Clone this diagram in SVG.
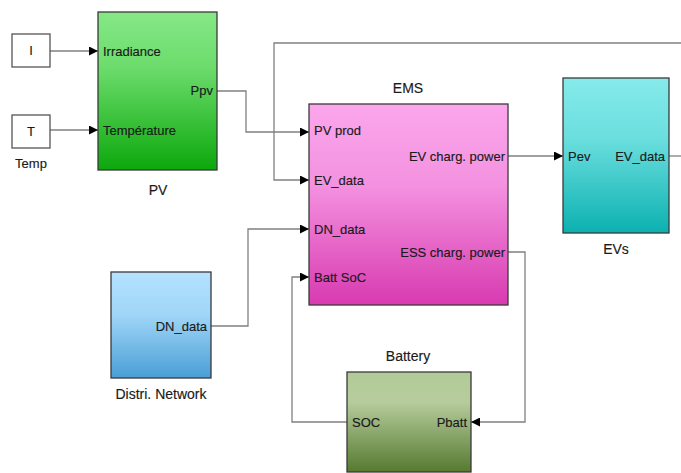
<svg xmlns="http://www.w3.org/2000/svg" width="681" height="473" viewBox="0 0 681 473">
<defs>
<style>
text{font-family:"Liberation Sans",Arial,sans-serif;font-size:13px;fill:#1a1a1a;stroke:#1a1a1a;stroke-width:0.15}
.nm{font-size:14px}
.blk{stroke:#3a3a3a;stroke-width:1.3}
.src{fill:#fff;stroke:#555;stroke-width:1.3}
.wire{fill:none;stroke:#808080;stroke-width:1.3}
.e{text-anchor:end}
.m{text-anchor:middle}
</style>
<linearGradient id="gPV" x1="0" y1="0" x2="0" y2="1"><stop offset="0" stop-color="#86e886"/><stop offset="0.35" stop-color="#6cdc6c"/><stop offset="1" stop-color="#0ca80c"/></linearGradient>
<linearGradient id="gEMS" x1="0" y1="0" x2="0" y2="1"><stop offset="0" stop-color="#fba6ec"/><stop offset="0.4" stop-color="#f492e0"/><stop offset="1" stop-color="#d83ab0"/></linearGradient>
<linearGradient id="gEV" x1="0" y1="0" x2="0" y2="1"><stop offset="0" stop-color="#86eaea"/><stop offset="0.4" stop-color="#6adede"/><stop offset="1" stop-color="#0cb0b0"/></linearGradient>
<linearGradient id="gDN" x1="0" y1="0" x2="0" y2="1"><stop offset="0" stop-color="#b4e2ff"/><stop offset="0.4" stop-color="#a0d6f8"/><stop offset="1" stop-color="#4a9ed6"/></linearGradient>
<linearGradient id="gBat" x1="0" y1="0" x2="0" y2="1"><stop offset="0" stop-color="#b2ca98"/><stop offset="0.3" stop-color="#b6cc9c"/><stop offset="1" stop-color="#567a30"/></linearGradient>
<marker id="arr" viewBox="0 0 10 10" refX="10" refY="5" markerWidth="9" markerHeight="9" markerUnits="userSpaceOnUse" orient="auto"><path d="M0,0 L10,5 L0,10 z" fill="#000"/></marker>
</defs>
<rect width="681" height="473" fill="#fff"/>

<g id="connectors">
<path class="wire" d="M50,51 H98" marker-end="url(#arr)"/>
<path class="wire" d="M50,130 H98" marker-end="url(#arr)"/>
<path class="wire" d="M217,91 H246 V132 H309" marker-end="url(#arr)"/>
<path class="wire" d="M681,43 H274 V180 H309" marker-end="url(#arr)"/>
<path class="wire" d="M211,326 H248 V229 H309" marker-end="url(#arr)"/>
<path class="wire" d="M347,422 H292 V277 H309" marker-end="url(#arr)"/>
<path class="wire" d="M508,156 H563" marker-end="url(#arr)"/>
<path class="wire" d="M508,252 H525 V422 H471" marker-end="url(#arr)"/>
<path class="wire" d="M669,156 H681"/>
</g>

<g id="I">
<rect class="src" x="12" y="34" width="38" height="33"/>
<text class="m" x="31" y="55">I</text>
</g>
<g id="T">
<rect class="src" x="12" y="115" width="38" height="33"/>
<text class="m" x="31" y="136">T</text>
<text class="m" x="31" y="168">Temp</text>
</g>
<g id="PV">
<rect class="blk" x="98" y="12" width="119" height="158" fill="url(#gPV)"/>
<text x="103" y="56">Irradiance</text>
<text x="103" y="135">Température</text>
<text class="e" x="213" y="95">Ppv</text>
<text class="m nm" x="158" y="195">PV</text>
</g>
<g id="EMS">
<rect class="blk" x="309" y="104" width="199" height="201" fill="url(#gEMS)"/>
<text class="m nm" x="408" y="93">EMS</text>
<text x="314" y="135">PV prod</text>
<text x="314" y="185">EV_data</text>
<text x="314" y="234">DN_data</text>
<text x="314" y="282">Batt SoC</text>
<text class="e" x="505" y="161">EV charg. power</text>
<text class="e" x="505" y="257">ESS charg. power</text>
</g>
<g id="EVs">
<rect class="blk" x="563" y="78" width="106" height="155" fill="url(#gEV)"/>
<text x="568" y="161">Pev</text>
<text class="e" x="665" y="161">EV_data</text>
<text class="m nm" x="616" y="254">EVs</text>
</g>
<g id="DN">
<rect class="blk" x="111" y="272" width="100" height="106" fill="url(#gDN)"/>
<text class="e" x="207" y="331">DN_data</text>
<text class="m nm" x="161" y="399">Distri. Network</text>
</g>
<g id="Battery">
<rect class="blk" x="347" y="372" width="124" height="100" fill="url(#gBat)"/>
<text class="m nm" x="408" y="361">Battery</text>
<text x="352" y="427">SOC</text>
<text class="e" x="467" y="427">Pbatt</text>
</g>
</svg>
